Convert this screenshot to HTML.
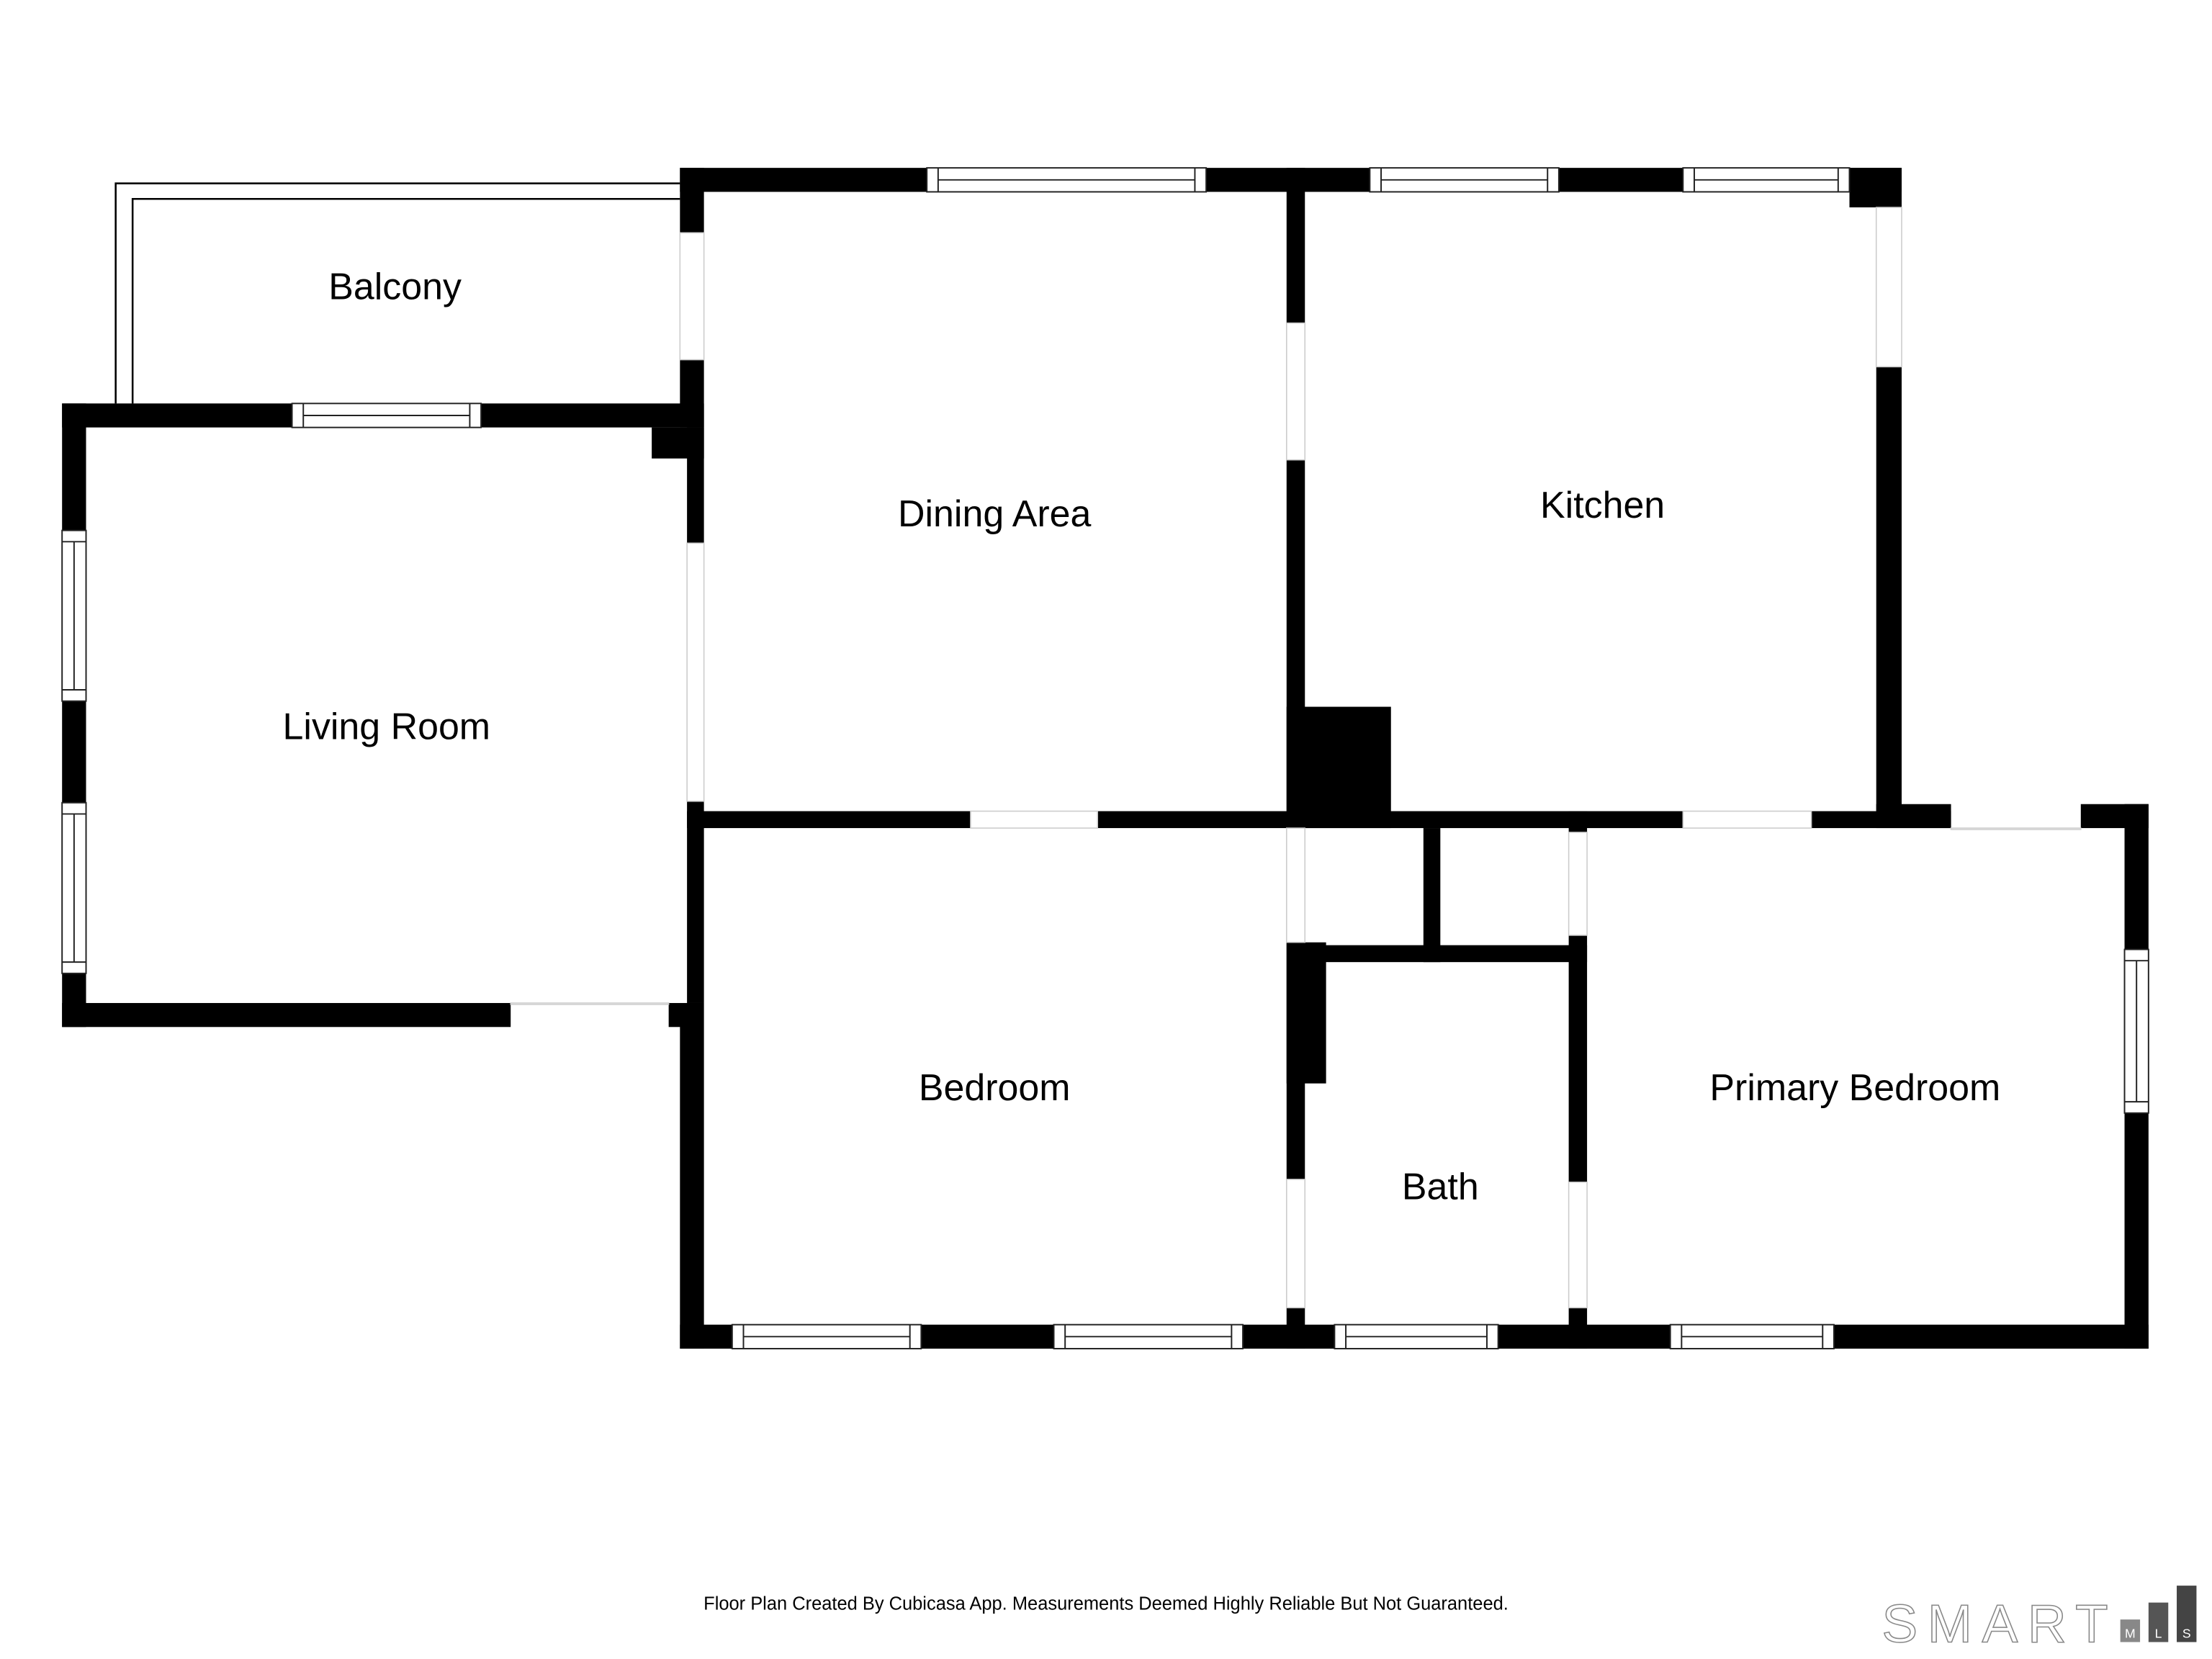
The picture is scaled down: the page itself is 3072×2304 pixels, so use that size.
<!DOCTYPE html>
<html><head><meta charset="utf-8"><style>
html,body{margin:0;padding:0;background:#fff;}
svg{display:block;}
text{font-family:"Liberation Sans","DejaVu Sans",sans-serif;fill:#000;}
</style></head><body>
<svg width="3072" height="2304" viewBox="0 0 1568 1176" xmlns="http://www.w3.org/2000/svg">
<rect width="1568" height="1176" fill="#fff"/>
<path d="M82 286 V130 H482" fill="none" stroke="#000" stroke-width="1.3"/>
<path d="M94 286 V141 H482" fill="none" stroke="#000" stroke-width="1.3"/>
<g fill="#000">
<rect x="482" y="119" width="866" height="17"/>
<rect x="482" y="119" width="17" height="46"/>
<rect x="482" y="255" width="17" height="48"/>
<rect x="462" y="303" width="37" height="22"/>
<rect x="487" y="303" width="12" height="82"/>
<rect x="487" y="568" width="12" height="143"/>
<rect x="482" y="711" width="17" height="245"/>
<rect x="474" y="711" width="13" height="17"/>
<rect x="44" y="286" width="455" height="17"/>
<rect x="44" y="286" width="17" height="442"/>
<rect x="44" y="711" width="318" height="17"/>
<rect x="487" y="575" width="201" height="12"/>
<rect x="778" y="575" width="147" height="12"/>
<rect x="912" y="119" width="13" height="110"/>
<rect x="912" y="326" width="13" height="261"/>
<rect x="912" y="501" width="74" height="86"/>
<rect x="912" y="575" width="281" height="12"/>
<rect x="1284" y="575" width="99" height="12"/>
<rect x="1330" y="570" width="53" height="17"/>
<rect x="1475" y="570" width="48" height="17"/>
<rect x="1311" y="119" width="37" height="28"/>
<rect x="1330" y="260" width="18" height="320"/>
<rect x="1506" y="570" width="17" height="386"/>
<rect x="482" y="939" width="1041" height="17"/>
<rect x="912" y="668" width="13" height="168"/>
<rect x="912" y="668" width="28" height="100"/>
<rect x="912" y="927" width="13" height="29"/>
<rect x="925" y="670" width="200" height="12"/>
<rect x="1009" y="587" width="12" height="95"/>
<rect x="1112" y="575" width="13" height="15"/>
<rect x="1112" y="663" width="13" height="175"/>
<rect x="1112" y="927" width="13" height="29"/>
</g>
<g fill="none" stroke="#ccc" stroke-width="0.8">
<rect x="482" y="165" width="17" height="90"/>
<rect x="487" y="385" width="12" height="183"/>
<rect x="362" y="711" width="112" height="1"/>
<rect x="688" y="575" width="90" height="12"/>
<rect x="912" y="229" width="13" height="97"/>
<rect x="1330" y="147" width="18" height="113"/>
<rect x="1193" y="575" width="91" height="12"/>
<rect x="1383" y="587" width="92" height="1"/>
<rect x="912" y="587" width="13" height="81"/>
<rect x="912" y="836" width="13" height="91"/>
<rect x="1112" y="590" width="13" height="73"/>
<rect x="1112" y="838" width="13" height="89"/>
</g>
<g fill="#fff" stroke="#222" stroke-width="1">
<rect x="657" y="119" width="198" height="17"/><path d="M665 119V136M847 119V136M665 127.5H847"/>
<rect x="971" y="119" width="134" height="17"/><path d="M979 119V136M1097 119V136M979 127.5H1097"/>
<rect x="1193" y="119" width="118" height="17"/><path d="M1201 119V136M1303 119V136M1201 127.5H1303"/>
<rect x="207" y="286" width="134" height="17"/><path d="M215 286V303M333 286V303M215 294.5H333"/>
<rect x="519" y="939" width="134" height="17"/><path d="M527 939V956M645 939V956M527 947.5H645"/>
<rect x="747" y="939" width="134" height="17"/><path d="M755 939V956M873 939V956M755 947.5H873"/>
<rect x="946" y="939" width="116" height="17"/><path d="M954 939V956M1054 939V956M954 947.5H1054"/>
<rect x="1184" y="939" width="116" height="17"/><path d="M1192 939V956M1292 939V956M1192 947.5H1292"/>
<rect x="44" y="376" width="17" height="121"/><path d="M44 384H61M44 489H61M52.5 384V489"/>
<rect x="44" y="569" width="17" height="121"/><path d="M44 577H61M44 682H61M52.5 577V682"/>
<rect x="1506" y="673" width="17" height="116"/><path d="M1506 681H1523M1506 781H1523M1514.5 681V781"/>
</g>
<g font-size="26.5" text-anchor="middle">
<text x="280" y="212">Balcony</text>
<text x="705" y="373">Dining Area</text>
<text x="1136" y="367">Kitchen</text>
<text x="274" y="524">Living Room</text>
<text x="705" y="780">Bedroom</text>
<text x="1021" y="850">Bath</text>
<text x="1315" y="780">Primary Bedroom</text>
</g>
<text x="784" y="1141" font-size="13" text-anchor="middle">Floor Plan Created By Cubicasa App. Measurements Deemed Highly Reliable But Not Guaranteed.</text>
<text x="1334" y="1164" font-size="38" stroke="#888" stroke-width="0.8" letter-spacing="7" style="fill:#fff">SMART</text>
<rect x="1503" y="1148" width="14" height="16" fill="#888"/>
<rect x="1523" y="1136" width="14" height="28" fill="#555"/>
<rect x="1543" y="1124" width="14" height="40" fill="#444"/>
<g font-size="9" text-anchor="middle">
<text x="1510" y="1161" style="fill:#fff">M</text>
<text x="1530" y="1161" style="fill:#fff">L</text>
<text x="1550" y="1161" style="fill:#fff">S</text>
</g>
</svg>
</body></html>
